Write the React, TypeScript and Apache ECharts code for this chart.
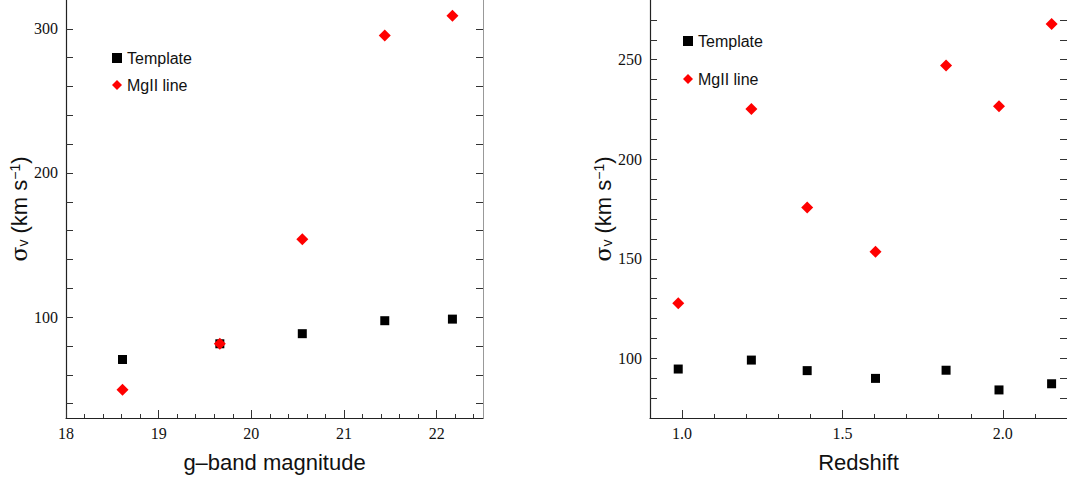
import React, { useEffect, useRef } from "react";
import * as echarts from "echarts";

// Left panel: g-band magnitude
const gMag = [18.61, 19.66, 20.55, 21.44, 22.17];
const gTemplate = [70.6, 81.5, 88.5, 97.5, 98.6];
const gMgII = [49.6, 81.5, 154, 295.4, 309];

// Right panel: redshift
const zRed = [0.988, 1.216, 1.39, 1.603, 1.823, 1.988, 2.152];
const zTemplate = [94.6, 99.1, 93.8, 89.9, 94.0, 84.1, 87.2];
const zMgII = [127.7, 225.2, 175.8, 153.5, 247.1, 226.6, 268];

// Tick values
const gMajor = [18, 19, 20, 21, 22];
const gMinor = [18.2, 18.4, 18.6, 18.8, 19.2, 19.4, 19.6, 19.8, 20.2, 20.4, 20.6, 20.8, 21.2, 21.4, 21.6, 21.8, 22.2, 22.4];
const gYLabels = [100, 200, 300];
const gYTicks = [40, 60, 80, 100, 120, 140, 160, 180, 200, 220, 240, 260, 280, 300];
const zMajor = [1.0, 1.5, 2.0];
const zMinor = [1.1, 1.2, 1.3, 1.4, 1.6, 1.7, 1.8, 1.9, 2.1];
const zYLabels = [100, 150, 200, 250];
const zYTicks = [80, 90, 100, 110, 120, 130, 140, 150, 160, 170, 180, 190, 200, 210, 220, 230, 240, 250, 260, 270];

const seriesNames = ["Template", "MgII line"];

const labelFont = { fontFamily: "Liberation Serif", fontSize: 16, color: "#111" };
const nameStyle = {
  fontFamily: "Liberation Sans",
  fontSize: 22,
  color: "#111",
};
const yNameStyle = {
  fontFamily: "Liberation Sans",
  fontSize: 22,
  color: "#111",
  rich: {
    s: { fontFamily: "DejaVu Serif", fontSize: 22, color: "#111" },
    sub: { fontFamily: "Liberation Sans", fontSize: 14, color: "#111", verticalAlign: "bottom" },
    t: { fontFamily: "Liberation Sans", fontSize: 22, color: "#111" },
    sup: { fontFamily: "Liberation Sans", fontSize: 14, color: "#111", verticalAlign: "top" },
  },
};
const yName = "{s|σ}{sub|v}{t| (km s}{sup|−1}{t|)}";

export default function App() {
  const ref = useRef<HTMLDivElement>(null);
  useEffect(() => {
    if (!ref.current) return;
    const chart = echarts.init(ref.current, undefined, { renderer: "svg" });
    const mkX = (grid: number, min: number, max: number, major: number[], minor: number[], name: string, dec: number) => [
      {
        type: "value", gridIndex: grid, min, max, position: "bottom",
        name, nameLocation: "middle", nameGap: 33, nameTextStyle: nameStyle,
        axisLine: { show: true, lineStyle: { color: "#222", width: 1.2 } },
        axisTick: { show: true, inside: true, length: 8, customValues: major, lineStyle: { color: "#333" } },
        axisLabel: { show: true, customValues: major, margin: 7, formatter: (v: number) => v.toFixed(dec), ...labelFont },
        splitLine: { show: false },
      },
      {
        type: "value", gridIndex: grid, min, max, position: "bottom",
        axisLine: { show: false },
        axisTick: { show: true, inside: true, length: 4, customValues: minor, lineStyle: { color: "#333" } },
        axisLabel: { show: false },
        splitLine: { show: false },
      },
    ];
    const mkY = (grid: number, min: number, max: number, labels: number[], ticks: number[], gap: number) => [
      {
        type: "value", gridIndex: grid, min, max, position: "left",
        name: yName, nameLocation: "middle", nameGap: gap, nameRotate: 90, nameTextStyle: yNameStyle,
        axisLine: { show: true, lineStyle: { color: "#222", width: 1.2 } },
        axisTick: { show: true, inside: true, length: 7, customValues: ticks, lineStyle: { color: "#333" } },
        axisLabel: { show: true, customValues: labels, margin: 8, ...labelFont },
        splitLine: { show: false },
      },
      {
        type: "value", gridIndex: grid, min, max, position: "right",
        axisLine: { show: true, lineStyle: { color: "#999", width: 1 } },
        axisTick: { show: true, inside: true, length: 7, customValues: ticks, lineStyle: { color: "#333" } },
        axisLabel: { show: false },
        splitLine: { show: false },
      },
    ];
    const legendText = { fontFamily: "Liberation Sans", fontSize: 16, color: "#111" };
    const option = {
      animation: false,
      backgroundColor: "#fff",
      grid: [
        { left: 66, width: 417, top: 0, bottom: 61 },
        { left: 650, right: -1, top: 0, bottom: 61 },
      ],
      legend: [
        {
          data: [
            { name: seriesNames[0], icon: "rect" },
            { name: seriesNames[1], icon: "diamond" },
          ],
          orient: "vertical", left: 107, top: 45, itemGap: 11, itemWidth: 10, itemHeight: 10, itemTextGap: 9,
          selectedMode: false,
          textStyle: legendText,
        },
        {
          data: [
            { name: seriesNames[0], icon: "rect" },
            { name: seriesNames[1], icon: "diamond" },
          ],
          orient: "vertical", left: 678, top: 28, itemGap: 22, itemWidth: 10, itemHeight: 10, itemTextGap: 7,
          selectedMode: false,
          textStyle: legendText,
        },
      ],
      xAxis: [
        ...mkX(0, 18, 22.5, gMajor, gMinor, "g–band magnitude", 0),
        ...mkX(1, 0.9, 2.2, zMajor, zMinor, "Redshift", 1),
      ],
      yAxis: [
        ...mkY(0, 30, 320, gYLabels, gYTicks, 31),
        ...mkY(1, 70, 280, zYLabels, zYTicks, 36),
      ],
      series: [
        {
          name: seriesNames[0], type: "scatter", xAxisIndex: 0, yAxisIndex: 0,
          symbol: "rect", symbolSize: 9, itemStyle: { color: "#000", opacity: 1 },
          data: gMag.map((x, i) => [x, gTemplate[i]]),
        },
        {
          name: seriesNames[1], type: "scatter", xAxisIndex: 0, yAxisIndex: 0,
          symbol: "diamond", symbolSize: 12, itemStyle: { color: "#f00", opacity: 1 },
          data: gMag.map((x, i) => [x, gMgII[i]]),
        },
        {
          name: seriesNames[0], type: "scatter", xAxisIndex: 2, yAxisIndex: 2,
          symbol: "rect", symbolSize: 9, itemStyle: { color: "#000", opacity: 1 },
          data: zRed.map((x, i) => [x, zTemplate[i]]),
        },
        {
          name: seriesNames[1], type: "scatter", xAxisIndex: 2, yAxisIndex: 2,
          symbol: "diamond", symbolSize: 12, itemStyle: { color: "#f00", opacity: 1 },
          data: zRed.map((x, i) => [x, zMgII[i]]),
        },
      ],
    };
    chart.setOption(option as any);
    return () => chart.dispose();
  }, []);
  return (
    <div
      ref={ref}
      style={{ position: "absolute", left: 0, top: 0, width: 1067, height: 479, background: "#fff" }}
    />
  );
}
